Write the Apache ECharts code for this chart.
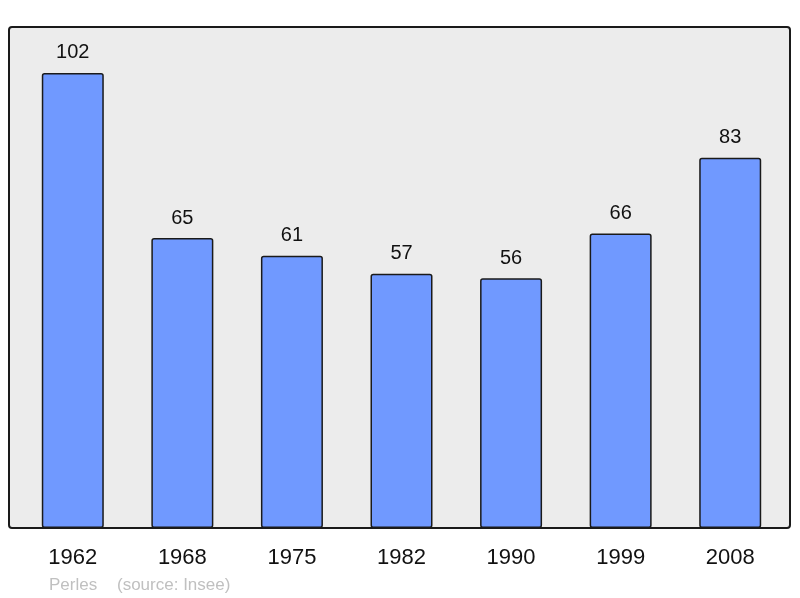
<!DOCTYPE html>
<html>
<head>
<meta charset="utf-8">
<script src="https://cdn.jsdelivr.net/npm/echarts@6/dist/echarts.min.js"></script>
<style>
  html, body { margin: 0; padding: 0; background: #ffffff; }
  #chart { width: 800px; height: 598px; }
</style>
</head>
<body>
<div id="chart"></div>
<script>
// years and population
const years = ["1962", "1968", "1975", "1982", "1990", "1999", "2008"];
const population = [102, 65, 61, 57, 56, 66, 83];
const footerName = "Perles";
const footerSource = "(source: Insee)";

const chart = echarts.init(document.getElementById("chart"));

const option = {
  animation: false,
  backgroundColor: "#ffffff",
  grid: {
    left: 18,
    right: 15,
    top: 27,
    bottom: 70,
  },
  graphic: [
    {
      type: "rect",
      z: -10,
      shape: { x: 9, y: 27, width: 781, height: 501, r: 3 },
      style: { fill: "#ececec", stroke: "#1a1a1a", lineWidth: 2 },
    },
    {
      type: "text",
      left: 49,
      top: 577,
      style: {
        text: footerName,
        fill: "#c0c0c0",
        font: "17px 'Liberation Sans', Arial, sans-serif",
      },
    },
    {
      type: "text",
      left: 117,
      top: 577,
      style: {
        text: footerSource,
        fill: "#c0c0c0",
        font: "17px 'Liberation Sans', Arial, sans-serif",
      },
    },
  ],
  xAxis: {
    type: "category",
    data: years,
    axisLine: { show: false },
    axisTick: { show: false },
    axisLabel: {
      color: "#111",
      fontSize: 22,
      fontFamily: "Liberation Sans, Arial, sans-serif",
      margin: 19,
    },
  },
  yAxis: {
    type: "value",
    min: 0,
    max: 112.3,
    show: false,
    splitLine: { show: false },
  },
  series: [
    {
      type: "bar",
      data: population,
      barWidth: 62,
      itemStyle: {
        color: "#7099ff",
        borderColor: "#1a1a1a",
        borderWidth: 1.5,
        borderRadius: 2,
      },
      label: {
        show: true,
        position: "top",
        distance: 10,
        color: "#111",
        fontSize: 20,
        fontFamily: "Liberation Sans, Arial, sans-serif",
      },
    },
  ],
};

chart.setOption(option);
</script>
</body>
</html>
